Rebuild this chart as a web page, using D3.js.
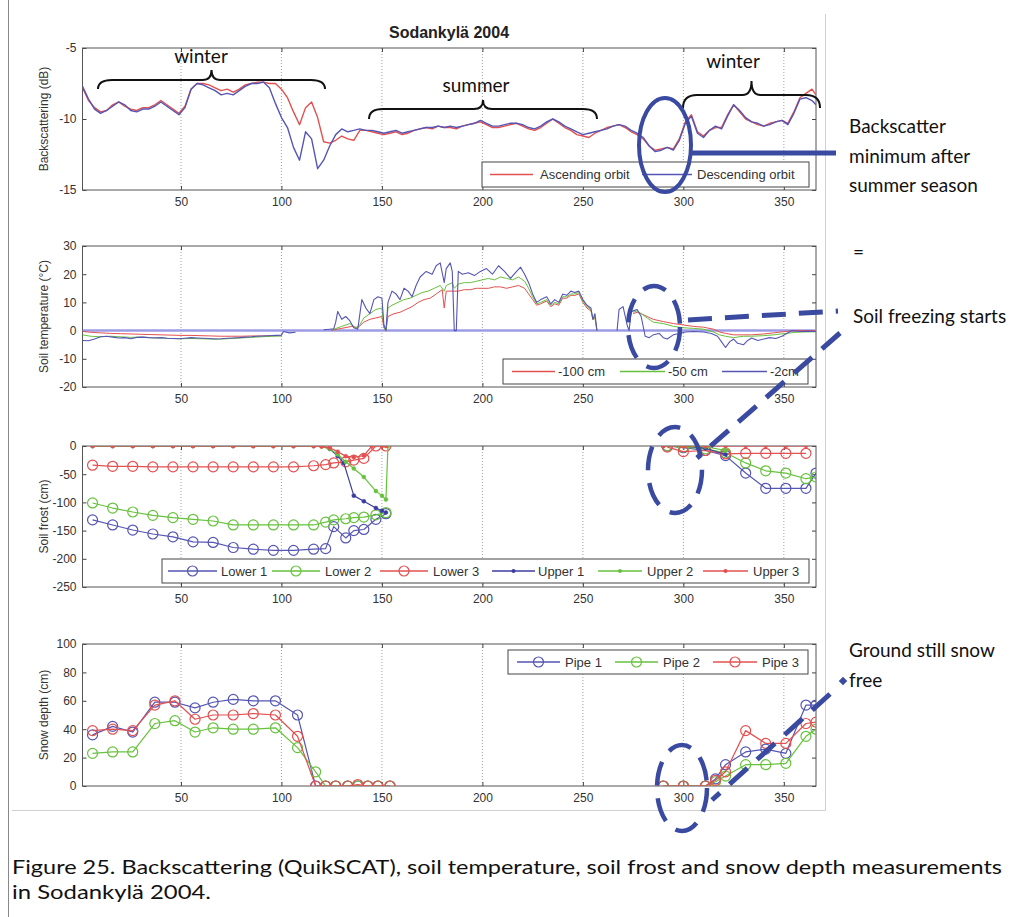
<!DOCTYPE html>
<html>
<head>
<meta charset="utf-8">
<script src="https://cdn.jsdelivr.net/npm/d3@7"></script>
<style>
  body { margin: 0; background: #fff; }
  svg { display: block; }
</style>
</head>
<body>
<div id="chart"></div>
<script>
// Page size
const width = 1026;
const height = 917;

// Colours (matlab defaults, a bit washed out by the scan)
const red = "#e35050";
const green = "#66c23c";
const blue = "#5555b4";
const noteBlue = "#3a4aa0";

// Day-of-year ticks shared by every panel
const xTicks = [50, 100, 150, 200, 250, 300, 350];

// Backscattering (dB), one value every 3 days
const bsDays = d3.range(1, 365, 3).concat([366]);
const descending = [
  -7.7, -8.6, -9.3, -9.6, -9.4, -9.1, -8.8, -9.0, -9.4, -9.5,
  -9.3, -9.3, -9.1, -8.8, -9.1, -9.4, -9.7, -9.2, -7.9, -7.5,
  -7.6, -7.8, -8.0, -8.3, -8.2, -8.3, -8.0, -7.7, -7.5, -7.5,
  -7.4, -7.8, -8.9, -9.9, -10.6, -12.0, -12.9, -10.9, -11.4, -13.5,
  -12.9, -11.9, -11.1, -10.7, -10.9, -10.8, -10.7, -10.8, -10.8, -10.9,
  -11.0, -10.9, -10.8, -11.0, -10.9, -10.8, -10.7, -10.6, -10.6, -10.5,
  -10.6, -10.5, -10.6, -10.5, -10.4, -10.3, -10.1, -10.3, -10.5, -10.5,
  -10.4, -10.3, -10.3, -10.4, -10.6, -10.7, -10.5, -10.2, -10.0, -10.2,
  -10.5, -10.7, -10.9, -11.1, -11.0, -10.9, -10.8, -10.7, -10.5, -10.4,
  -10.5, -10.8, -11.0, -11.3, -11.9, -12.3, -12.2, -12.0, -12.2, -11.5,
  -10.3, -9.8, -11.0, -11.3, -10.8, -10.5, -10.7, -9.8, -9.0, -9.4,
  -9.9, -10.2, -10.3, -10.5, -10.4, -10.2, -10.1, -10.4, -9.6, -8.6,
  -8.5, -8.7, -9.0
];
const ascending = [
  -7.8, -8.7, -9.2, -9.5, -9.4, -9.0, -8.8, -9.1, -9.3, -9.4,
  -9.2, -9.2, -9.0, -8.7, -9.0, -9.3, -9.6, -9.1, -7.9, -7.5,
  -7.5, -7.6, -7.8, -8.0, -7.9, -8.1, -7.9, -7.6, -7.5, -7.4,
  -7.4, -7.5, -7.5, -7.9, -8.5, -9.5, -10.4, -9.2, -8.8, -9.9,
  -11.6, -11.7, -11.5, -11.2, -11.4, -11.5, -10.8, -10.8, -10.9, -11.0,
  -11.1, -11.0, -10.9, -11.1, -11.0, -10.8, -10.7, -10.6, -10.7, -10.5,
  -10.6, -10.6, -10.7, -10.5, -10.4, -10.3, -10.2, -10.4, -10.6, -10.6,
  -10.5, -10.4, -10.3, -10.5, -10.7, -10.8, -10.6, -10.3, -10.0, -10.3,
  -10.6, -10.8, -11.1, -11.2, -11.3, -11.0, -10.8, -10.6, -10.5, -10.4,
  -10.6, -10.9, -11.1, -11.4, -11.9, -12.2, -12.1, -12.0, -12.1, -11.4,
  -10.2, -9.7, -10.9, -11.2, -10.8, -10.6, -10.6, -9.7, -9.0, -9.5,
  -10.0, -10.2, -10.4, -10.5, -10.3, -10.2, -10.1, -10.3, -9.5, -8.5,
  -8.2, -7.9, -8.3
];

// Soil temperature (°C) as [day, value]; null = no data
const temp100 = [
  [1, -0.3], [5, -0.6], [10, -0.8], [15, -1.0], [20, -1.1], [25, -1.2], [30, -1.3], [35, -1.4],
  [40, -1.5], [45, -1.6], [50, -1.7], [55, -1.7], [60, -1.8], [65, -1.9], [70, -2.0], [75, -2.0],
  [80, -2.0], [85, -1.9], [90, -1.9], [95, -1.8], [100, -1.8], [101, null],
  [125, 0.1], [130, 0.8], [135, 1.5], [138, 1.0], [141, 3.0], [144, 4.0], [147, 4.5], [150, 5.0],
  [151, 1.0], [152, 0], [153, 5.0], [156, 6.0], [159, 6.5], [162, 7.5], [165, 8.5], [168, 10.0],
  [171, 11.0], [174, 11.5], [177, 13.0], [180, 14.5], [181, 8.0], [182, 14.0], [185, 14.0],
  [188, 14.0], [191, 14.5], [194, 14.5], [197, 15.0], [200, 15.0], [203, 15.0], [206, 15.5],
  [209, 15.5], [212, 15.0], [215, 15.5], [218, 16.0], [221, 15.0], [223, 13.0], [225, 11.0],
  [227, 9.0], [229, 9.5], [232, 10.5], [234, 8.5], [236, 9.5], [238, 9.0], [240, 11.5],
  [242, 11.5], [244, 12.5], [246, 12.5], [248, 13.0], [250, 10.0], [252, 8.0], [254, 7.0],
  [255, 4.0], [256, 4.5], [257, 0], [258, null],
  [275, 6.0], [277, 6.5], [279, 6.0], [282, 5.0], [285, 4.0], [290, 3.2], [295, 2.5], [300, 2.0],
  [305, 1.5], [310, 1.2], [315, 0.5], [318, -0.5], [321, -1.0], [325, -1.5], [330, -1.5],
  [334, -1.5], [340, -1.2], [345, -0.8], [351, -0.3], [356, 0], [360, 0], [366, 0]
];
const temp50 = [
  [1, -1.5], [5, -2.0], [10, -2.2], [15, -2.0], [20, -2.2], [25, -2.4], [30, -2.3], [35, -2.5],
  [40, -2.6], [45, -2.8], [50, -2.9], [55, -2.8], [60, -2.9], [65, -3.0], [70, -3.0], [75, -2.8],
  [80, -2.6], [85, -2.4], [90, -2.2], [95, -2.0], [100, -1.9], [101, null],
  [125, 0.2], [130, 1.5], [134, 2.5], [137, 1.0], [139, 2.0], [141, 4.5], [144, 6.0], [147, 7.5],
  [150, 8.0], [151, 1.0], [152, 0], [153, 8.0], [155, 9.0], [158, 10.0], [161, 11.0], [164, 11.5],
  [167, 12.5], [170, 13.5], [173, 14.0], [176, 15.0], [179, 16.0], [181, 14.0], [182, 16.0],
  [185, 17.0], [186, 15.0], [188, 16.5], [191, 17.0], [194, 17.0], [197, 17.5], [200, 18.0],
  [203, 18.5], [206, 18.0], [209, 19.0], [212, 18.5], [215, 18.0], [218, 19.0], [221, 17.5],
  [223, 15.0], [225, 12.0], [227, 9.5], [229, 10.0], [232, 11.0], [234, 9.0], [236, 10.0],
  [238, 9.5], [240, 12.0], [242, 12.0], [244, 13.0], [246, 13.0], [248, 13.5], [250, 10.5],
  [252, 8.5], [254, 7.5], [255, 4.0], [256, 5.0], [257, 0], [258, null],
  [275, 6.5], [277, 7.0], [279, 6.0], [282, 4.5], [285, 3.0], [290, 2.5], [295, 1.5], [300, 1.0],
  [305, 0.8], [310, 0.5], [315, -0.5], [318, -1.5], [321, -2.0], [325, -2.5], [330, -2.0],
  [334, -2.0], [340, -1.8], [345, -1.5], [351, -1.0], [356, -0.6], [360, -0.5], [366, -0.4]
];
const temp2 = [
  [1, -3.5], [4, -3.6], [7, -3.0], [10, -2.2], [13, -2.0], [16, -2.3], [19, -2.6], [22, -2.5],
  [25, -2.9], [28, -2.4], [31, -2.3], [34, -2.5], [37, -2.6], [40, -2.5], [43, -2.7], [46, -2.8],
  [49, -2.9], [52, -2.7], [55, -2.5], [58, -2.6], [61, -2.7], [64, -2.8], [67, -3.0], [70, -2.9],
  [73, -2.7], [76, -2.6], [79, -2.5], [82, -2.3], [85, -2.2], [88, -2.0], [91, -1.9], [94, -1.8],
  [97, -1.7], [100, -1.6], [101, -0.3], [104, -0.8], [107, -0.6], [108, null],
  [121, 0.3], [124, 0.5], [126, 0.6], [127, 3.0], [128, 6.8], [130, 4.0], [132, 5.0], [134, 3.5],
  [136, 1.0], [138, 0.5], [140, 11.0], [142, 8.0], [144, 6.0], [146, 11.0], [148, 12.0],
  [150, 11.5], [151, 2.0], [152, 0], [153, 10.0], [155, 14.0], [157, 13.0], [159, 11.0],
  [161, 15.0], [163, 14.0], [165, 12.0], [167, 16.0], [169, 19.0], [172, 21.0], [175, 20.0],
  [177, 23.0], [179, 24.0], [181, 17.0], [182, 22.0], [184, 24.0], [185, 21.0], [186, 0],
  [187, 0], [188, 21.0], [190, 20.0], [193, 20.5], [196, 19.5], [199, 21.0], [202, 22.0],
  [205, 20.0], [208, 23.0], [211, 21.0], [214, 18.5], [217, 21.0], [219, 22.5], [221, 20.0],
  [223, 17.0], [225, 13.0], [227, 10.0], [229, 11.0], [232, 12.0], [234, 9.5], [236, 11.0],
  [238, 10.0], [240, 13.0], [242, 12.5], [244, 14.0], [246, 13.5], [248, 14.0], [250, 11.0],
  [252, 9.0], [254, 8.0], [255, 4.0], [256, 6.0], [257, 0], [258, null],
  [267, 0], [268, 7.5], [270, 8.5], [272, 2.0], [273, 0], [274, 6.5], [275, 7.0], [277, 7.5],
  [279, 5.0], [281, -2.0], [283, -2.5], [285, -1.5], [288, -1.0], [290, -2.5], [292, -3.0],
  [295, -1.5], [298, -1.0], [301, -0.5], [305, -0.3], [310, -0.5], [314, -1.0], [317, -2.0],
  [319, -4.0], [321, -6.0], [323, -4.0], [325, -3.0], [327, -4.5], [330, -5.0], [332, -3.5],
  [334, -2.6], [337, -3.5], [340, -3.0], [343, -2.5], [346, -2.8], [349, -2.0], [351, -1.2],
  [354, 0], [358, -0.3], [362, -0.2], [366, -0.3]
];
// flat sensor trace sitting on zero all year
const tempZero = [[1, 0], [366, 0]];

// Soil frost depth (cm) as [day, value]
const lower1 = [
  [6, -131], [16, -140], [26, -149], [36, -156], [46, -161], [56, -170], [66, -171], [76, -180],
  [86, -183], [96, -185], [106, -185], [116, -183], [122, -182], [126, -143], [132, -163],
  [136, -150], [141, -148], [147, -130], [152, -120], [153, null],
  [292, 0], [300, -3], [311, -8], [321, -17], [331, -48], [341, -75], [351, -75], [361, -75], [366, -48]
];
const lower2 = [
  [6, -101], [16, -110], [26, -117], [36, -123], [46, -127], [56, -130], [66, -133], [76, -140],
  [86, -140], [96, -140], [106, -140], [116, -140], [122, -135], [126, -131], [132, -129],
  [136, -127], [141, -126], [147, -122], [152, -118], [153, null],
  [292, 0], [300, -2], [311, -5], [321, -12], [331, -30], [341, -44], [351, -48], [361, -58], [366, -55]
];
const lower3 = [
  [6, -34], [16, -36], [26, -36], [36, -37], [46, -37], [56, -37], [66, -37], [76, -37],
  [86, -37], [96, -37], [106, -37], [116, -35], [122, -33], [126, -30], [132, -28],
  [136, -25], [141, -22], [147, 0], [152, 0], [153, null],
  [292, -2], [300, -10], [311, -8], [321, -14], [331, -13], [341, -13], [351, -13], [361, -13]
];
const upper1 = [
  [6, 0], [16, 0], [26, 0], [36, 0], [46, 0], [56, 0], [66, 0], [76, 0], [86, 0], [96, 0],
  [106, 0], [116, 0], [120, 0], [124, -5], [128, -18], [131, -30], [136, -88], [141, -98],
  [147, -110], [150, -115], [152, -118], [153, null],
  [290, 0], [300, 0], [311, -4], [321, -15]
];
const upper2 = [
  [6, 0], [16, 0], [26, 0], [36, 0], [46, 0], [56, 0], [66, 0], [76, 0], [86, 0], [96, 0],
  [106, 0], [116, 0], [120, -1], [124, -5], [128, -15], [132, -28], [136, -40], [141, -55],
  [147, -80], [150, -88], [152, -95], [153, 0], [154, null],
  [290, 0], [300, 0], [311, -1], [321, -8]
];
const upper3 = [
  [6, 0], [16, 0], [26, 0], [36, 0], [46, 0], [56, 0], [66, 0], [76, 0], [86, 0], [96, 0],
  [106, 0], [116, 0], [120, -1], [124, -3], [128, -10], [132, -18], [136, -20], [141, -17],
  [145, 0], [150, 0], [152, 0], [153, null],
  [290, 0], [300, 0], [311, 0], [321, 0], [331, 0], [341, 0], [351, 0], [361, 0]
];

// Snow depth (cm) as [day, value]
const pipe1 = [
  [6, 36], [16, 42], [26, 38], [37, 59], [47, 59], [57, 55], [66, 59], [76, 61], [86, 60], [97, 60],
  [108, 50], [117, 0], [122, 0], [127, 0], [133, 0], [138, 0], [143, 0], [148, 0], [154, 0], [155, null],
  [290, 0], [300, 0], [311, 0], [316, 5], [321, 15], [331, 24], [341, 26], [351, 23], [361, 57], [366, 57]
];
const pipe2 = [
  [6, 23], [16, 24], [26, 24], [37, 44], [47, 46], [57, 38], [66, 41], [76, 40], [86, 40], [97, 41],
  [108, 27], [117, 10], [122, 0], [127, 0], [133, 0], [138, 0], [143, 0], [148, 0], [154, 0], [155, null],
  [290, 0], [300, 0], [311, 0], [316, 3], [321, 7], [331, 15], [341, 15], [351, 16], [361, 35], [366, 40]
];
const pipe3 = [
  [6, 39], [16, 40], [26, 39], [37, 57], [47, 60], [57, 47], [66, 50], [76, 50], [86, 51], [97, 50],
  [108, 35], [117, 0], [122, 0], [127, 0], [133, 0], [138, 1], [143, 0], [148, 0], [154, 0], [155, null],
  [290, 0], [300, 0], [311, 0], [316, 4], [321, 10], [331, 39], [341, 30], [351, 30], [361, 44], [366, 45]
];

const svg = d3.select("#chart")
  .append("svg")
  .attr("width", width)
  .attr("height", height);

// page frame + matlab figure frame
svg.append("line").attr("x1", 8.5).attr("x2", 8.5).attr("y1", 0).attr("y2", height)
  .attr("stroke", "#888");
svg.append("path").attr("d", "M12,810.5 H825.5 V14")
  .attr("fill", "none").attr("stroke", "#d0d0d0");

const x = d3.scaleLinear().domain([1, 366]).range([82.5, 816]);

const tickFont = "'Liberation Sans', Arial, sans-serif";
const plain = d => String(d); // matlab prints a plain hyphen for negatives

// Draw one matlab style axes box, returns its y scale and a clipped group
function panel(id, top, bottom, domain, yTicks, label) {
  const y = d3.scaleLinear().domain(domain).range([bottom, top]);
  const g = svg.append("g");

  g.append("clipPath").attr("id", id)
    .append("rect").attr("x", x.range()[0]).attr("y", top)
    .attr("width", x.range()[1] - x.range()[0]).attr("height", bottom - top);

  // dotted vertical grid
  g.selectAll("line.grid").data(xTicks).join("line")
    .attr("class", "grid")
    .attr("x1", d => x(d)).attr("x2", d => x(d))
    .attr("y1", top).attr("y2", bottom)
    .attr("stroke", "#8a8a8a").attr("stroke-width", 0.8)
    .attr("stroke-dasharray", "1,2");

  const axB = g.append("g").attr("transform", `translate(0,${bottom})`)
    .call(d3.axisBottom(x).tickValues(xTicks).tickSizeInner(-4).tickSizeOuter(0).tickPadding(7).tickFormat(plain));
  const axT = g.append("g").attr("transform", `translate(0,${top})`)
    .call(d3.axisTop(x).tickValues(xTicks).tickSizeInner(-4).tickSizeOuter(0).tickFormat(""));
  const axL = g.append("g").attr("transform", `translate(${x.range()[0]},0)`)
    .call(d3.axisLeft(y).tickValues(yTicks).tickSizeInner(-4).tickSizeOuter(0).tickPadding(6).tickFormat(plain));
  const axR = g.append("g").attr("transform", `translate(${x.range()[1]},0)`)
    .call(d3.axisRight(y).tickValues(yTicks).tickSizeInner(-4).tickSizeOuter(0).tickFormat(""));

  [axB, axT, axL, axR].forEach(a => {
    a.select(".domain").remove();
    a.selectAll(".tick line").attr("stroke", "#444");
    a.selectAll("text").attr("font-family", tickFont).attr("font-size", 12).attr("fill", "#333");
  });

  g.append("rect")
    .attr("x", x.range()[0]).attr("y", top)
    .attr("width", x.range()[1] - x.range()[0]).attr("height", bottom - top)
    .attr("fill", "none").attr("stroke", "#555");

  g.append("text")
    .attr("transform", `translate(45,${(top + bottom) / 2}) rotate(-90)`)
    .attr("text-anchor", "middle")
    .attr("dominant-baseline", "middle")
    .attr("font-family", tickFont).attr("font-size", 12).attr("fill", "#333")
    .text(label);

  const plot = svg.append("g").attr("clip-path", `url(#${id})`);
  return { y, plot };
}

function drawLine(p, data, color, w) {
  const line = d3.line()
    .defined(d => d[1] !== null)
    .x(d => x(d[0]))
    .y(d => p.y(d[1]));
  p.plot.append("path")
    .datum(data)
    .attr("d", line)
    .attr("fill", "none")
    .attr("stroke", color)
    .attr("stroke-width", w)
    .attr("stroke-linejoin", "round");
}

function drawMarkers(p, data, color, kind) {
  p.plot.selectAll(null)
    .data(data.filter(d => d[1] !== null))
    .join("circle")
    .attr("cx", d => x(d[0]))
    .attr("cy", d => p.y(d[1]))
    .attr("r", kind === "circle" ? 5 : 2)
    .attr("fill", kind === "circle" ? "none" : color)
    .attr("stroke", color)
    .attr("stroke-width", kind === "circle" ? 1.2 : 0.5);
}

function legend(x1, y1, x2, y2, items) {
  const g = svg.append("g");
  g.append("rect").attr("x", x1).attr("y", y1).attr("width", x2 - x1).attr("height", y2 - y1)
    .attr("fill", "#fff").attr("stroke", "#444");
  const cy = (y1 + y2) / 2;
  items.forEach(it => {
    g.append("line").attr("x1", it.a).attr("x2", it.b).attr("y1", cy).attr("y2", cy)
      .attr("stroke", it.color).attr("stroke-width", 1.3);
    if (it.marker === "circle") {
      g.append("circle").attr("cx", (it.a + it.b) / 2).attr("cy", cy).attr("r", 5)
        .attr("fill", "none").attr("stroke", it.color).attr("stroke-width", 1.2);
    } else if (it.marker === "dot") {
      g.append("circle").attr("cx", (it.a + it.b) / 2).attr("cy", cy).attr("r", 2)
        .attr("fill", it.color);
    }
    g.append("text").attr("x", it.t).attr("y", cy + 4.5)
      .attr("font-family", tickFont).attr("font-size", 13).attr("fill", "#333")
      .text(it.label);
  });
}

// Title
svg.append("text")
  .attr("x", 449).attr("y", 38)
  .attr("text-anchor", "middle")
  .attr("font-family", tickFont).attr("font-weight", "bold").attr("font-size", 16)
  .attr("fill", "#222")
  .text("Sodankylä 2004");

// Panel 1: backscattering
const p1 = panel("clip1", 48, 190, [-15, -5], [-15, -10, -5], "Backscattering (dB)");
drawLine(p1, bsDays.map((d, i) => [d, ascending[i]]), red, 1.4);
drawLine(p1, bsDays.map((d, i) => [d, descending[i]]), blue, 1.4);
legend(482, 162, 809, 187, [
  { a: 490, b: 533, t: 540, color: red, label: "Ascending orbit" },
  { a: 642, b: 692, t: 697, color: blue, label: "Descending orbit" }
]);

// Panel 2: soil temperature
const p2 = panel("clip2", 246, 387, [-20, 30], [-20, -10, 0, 10, 20, 30], "Soil temperature (\u00B0C)");
drawLine(p2, tempZero, "#9c9ce6", 2.5);
drawLine(p2, temp100, red, 1);
drawLine(p2, temp50, green, 1);
drawLine(p2, temp2, blue, 1.1);
legend(503, 359, 808, 384, [
  { a: 512, b: 555, t: 558, color: red, label: "-100 cm" },
  { a: 620, b: 665, t: 668, color: green, label: "-50 cm" },
  { a: 722, b: 767, t: 770, color: blue, label: "-2cm" }
]);

// Panel 3: soil frost
const p3 = panel("clip3", 446, 587, [-250, 0], [-250, -200, -150, -100, -50, 0], "Soil frost (cm)");
[[lower1, blue], [lower2, green], [lower3, red]].forEach(([d, c]) => {
  drawLine(p3, d, c, 1.2);
  drawMarkers(p3, d, c, "circle");
});
[[upper1, "#3c3ca0"], [upper2, green], [upper3, red]].forEach(([d, c]) => {
  drawLine(p3, d, c, 1.2);
  drawMarkers(p3, d, c, "dot");
});
legend(162, 559, 809, 583, [
  { a: 168, b: 217, t: 221, color: blue, label: "Lower 1", marker: "circle" },
  { a: 272, b: 320, t: 325, color: green, label: "Lower 2", marker: "circle" },
  { a: 380, b: 428, t: 433, color: red, label: "Lower 3", marker: "circle" },
  { a: 492, b: 535, t: 538, color: "#3c3ca0", label: "Upper 1", marker: "dot" },
  { a: 598, b: 642, t: 647, color: green, label: "Upper 2", marker: "dot" },
  { a: 703, b: 748, t: 753, color: red, label: "Upper 3", marker: "dot" }
]);

// Panel 4: snow depth
const p4 = panel("clip4", 644, 786, [0, 100], [0, 20, 40, 60, 80, 100], "Snow depth (cm)");
[[pipe1, blue], [pipe2, green], [pipe3, red]].forEach(([d, c]) => {
  drawLine(p4, d, c, 1.2);
  drawMarkers(p4, d, c, "circle");
});
legend(508, 650, 808, 674, [
  { a: 517, b: 560, t: 565, color: blue, label: "Pipe 1", marker: "circle" },
  { a: 615, b: 658, t: 663, color: green, label: "Pipe 2", marker: "circle" },
  { a: 713, b: 757, t: 762, color: red, label: "Pipe 3", marker: "circle" }
]);

// ---- Annotations ----
const noteFont = "Lato, 'Open Sans', sans-serif";
const notes = svg.append("g");

function brace(x1, x2, yLine, yTip, yEnd) {
  const xm = (x1 + x2) / 2;
  return `M${x1},${yEnd} Q${x1},${yLine} ${x1 + 14},${yLine} L${xm - 9},${yLine} ` +
    `Q${xm},${yLine} ${xm},${yTip} Q${xm},${yLine} ${xm + 9},${yLine} ` +
    `L${x2 - 14},${yLine} Q${x2},${yLine} ${x2},${yEnd}`;
}
[
  [98, 325, 80, 70, 89, "winter", 201, 63],
  [369, 597, 109, 100, 119, "summer", 476, 92],
  [683, 820, 95, 81, 108, "winter", 733, 68]
].forEach(([x1, x2, yl, yt, ye, txt, tx, ty]) => {
  notes.append("path").attr("d", brace(x1, x2, yl, yt, ye))
    .attr("fill", "none").attr("stroke", "#111").attr("stroke-width", 2);
  notes.append("text").attr("x", tx).attr("y", ty).attr("text-anchor", "middle")
    .attr("font-family", noteFont).attr("font-size", 19).attr("fill", "#111").text(txt);
});

// solid ellipse + pointer (backscatter minimum)
notes.append("ellipse").attr("cx", 665).attr("cy", 145).attr("rx", 26).attr("ry", 47)
  .attr("fill", "none").attr("stroke", noteBlue).attr("stroke-width", 4);
notes.append("line").attr("x1", 691).attr("x2", 836).attr("y1", 153).attr("y2", 153)
  .attr("stroke", noteBlue).attr("stroke-width", 5);

// dashed ellipses and pointers
const dashed = "24,13";
[[654, 327, 26, 41], [675, 470, 27, 43], [682, 788, 25, 43]].forEach(([cx, cy, rx, ry]) => {
  notes.append("ellipse").attr("cx", cx).attr("cy", cy).attr("rx", rx).attr("ry", ry)
    .attr("fill", "none").attr("stroke", noteBlue).attr("stroke-width", 4.5)
    .attr("stroke-dasharray", dashed);
});
[[688, 320, 838, 311], [840, 333, 697, 458], [830, 694, 712, 800]].forEach(([a, b, c, d]) => {
  notes.append("line").attr("x1", a).attr("y1", b).attr("x2", c).attr("y2", d)
    .attr("stroke", noteBlue).attr("stroke-width", 5).attr("stroke-dasharray", dashed);
});
notes.append("rect").attr("x", -3).attr("y", -3).attr("width", 6).attr("height", 6)
  .attr("transform", "translate(843,681) rotate(45)").attr("fill", noteBlue);

// side notes
[
  ["Backscatter", 849, 133],
  ["minimum after", 849, 163],
  ["summer season", 849, 192],
  ["=", 853, 259],
  ["Soil freezing starts", 853, 323],
  ["Ground still snow", 849, 657],
  ["free", 849, 687]
].forEach(([t, tx, ty]) => {
  notes.append("text").attr("x", tx).attr("y", ty)
    .attr("font-family", noteFont).attr("font-size", 19).attr("fill", "#111").text(t);
});

// caption
svg.append("text").attr("x", 12).attr("y", 874)
  .attr("font-family", noteFont).attr("font-size", 20).attr("fill", "#111")
  .attr("textLength", 990).attr("lengthAdjust", "spacingAndGlyphs")
  .text("Figure 25. Backscattering (QuikSCAT), soil temperature, soil frost and snow depth measurements");
svg.append("text").attr("x", 12).attr("y", 899)
  .attr("font-family", noteFont).attr("font-size", 20).attr("fill", "#111")
  .attr("textLength", 199).attr("lengthAdjust", "spacingAndGlyphs")
  .text("in Sodankylä 2004.");
</script>
</body>
</html>
